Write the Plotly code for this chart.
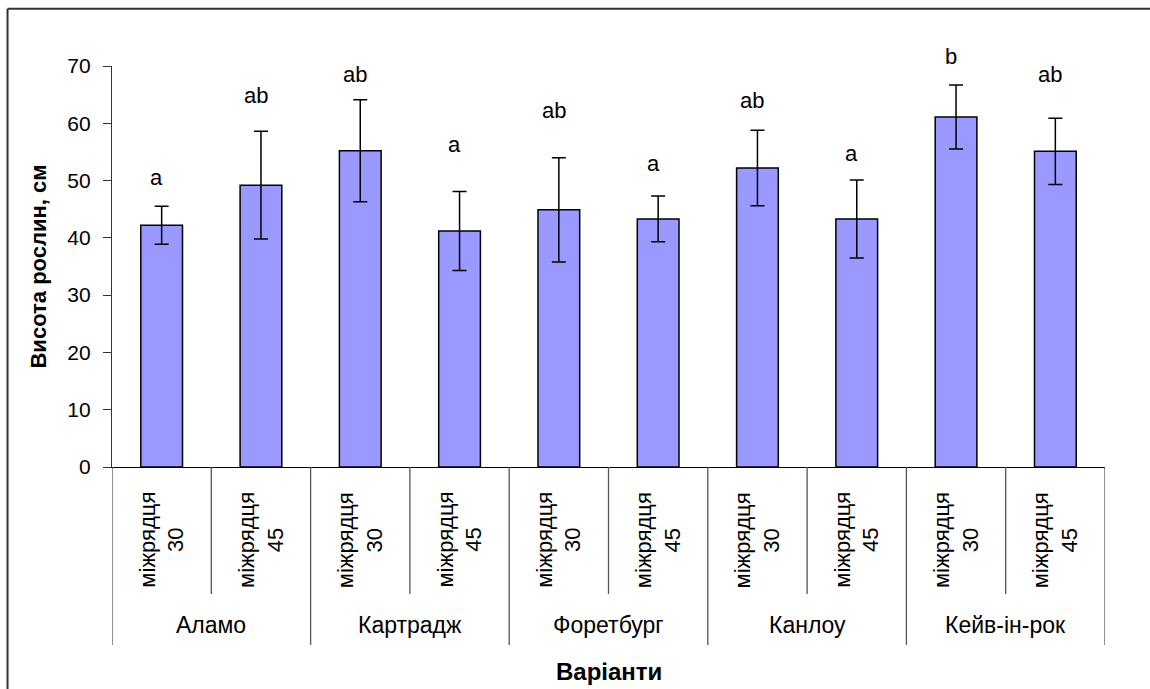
import plotly.graph_objects as go

varieties = ["Аламо", "Картрадж", "Форетбург", "Канлоу", "Кейв-ін-рок"]
spacings = ["міжрядця<br>30", "міжрядця<br>45"]
heights = [42.2, 49.2, 55.2, 41.2, 44.9, 43.3, 52.2, 43.3, 61.1, 55.1]
errors = [3.3, 9.4, 8.9, 6.9, 9.1, 4.0, 6.6, 6.8, 5.6, 5.8]
letters = ["a", "ab", "ab", "a", "ab", "a", "ab", "a", "b", "ab"]
letter_y = [50.5, 64.9, 68.6, 56.3, 62.3, 53.0, 64.0, 54.8, 71.6, 68.5]
y_ticks = [0, 10, 20, 30, 40, 50, 60, 70]
Y_MAX = 70

FONT = "Liberation Sans, Arial, sans-serif"
n = len(heights)
xs = list(range(n))

fig = go.Figure()
fig.add_trace(go.Bar(
    x=xs, y=heights, width=0.42,
    marker=dict(color="#9999FF", line=dict(color="black", width=1.5)),
    error_y=dict(type="data", array=errors, visible=True, color="black",
                 thickness=1.5, width=7),
    showlegend=False,
    hoverinfo="skip",
))

annotations = []
# significance letters (y converted to plot fraction so labels above the range still show)
for i in range(n):
    annotations.append(dict(x=xs[i], y=letter_y[i] / Y_MAX, xref="x", yref="paper",
                            text=letters[i], showarrow=False, xshift=-5,
                            font=dict(family=FONT, size=22, color="black"),
                            xanchor="center", yanchor="middle"))

# inner category labels
inner_labels = [spacings[i % 2] for i in range(n)]
for i in range(n):
    annotations.append(dict(x=xs[i], y=-0.182, xref="x", yref="paper", text=inner_labels[i],
                            showarrow=False, textangle=-90,
                            font=dict(family=FONT, size=22, color="black"),
                            xanchor="center", yanchor="middle"))
# group labels
for g, name in enumerate(varieties):
    annotations.append(dict(x=2 * g + 0.5, y=-0.394, xref="x", yref="paper", text=name,
                            showarrow=False,
                            font=dict(family=FONT, size=23, color="black"),
                            xanchor="center", yanchor="middle"))
# axis titles
annotations.append(dict(x=0.5, y=-0.511, xref="paper", yref="paper", text="<b>Варіанти</b>",
                        showarrow=False, font=dict(family=FONT, size=24, color="black"),
                        xanchor="center", yanchor="middle"))
annotations.append(dict(x=-0.0745, y=0.5, xref="paper", yref="paper",
                        text="<b>Висота рослин, см</b>", textangle=-90,
                        showarrow=False, font=dict(family=FONT, size=22, color="black"),
                        xanchor="center", yanchor="middle"))

shapes = []
# category dividers
for i in range(n + 1):
    is_group = (i % 2 == 0)
    shapes.append(dict(type="line", xref="x", yref="paper", x0=i - 0.5, x1=i - 0.5,
                       y0=0, y1=-0.4436 if is_group else -0.3165,
                       line=dict(color="#555555", width=1.3)))
# outer frame: left and top edges
frame = dict(color="#333333", width=2)
shapes.append(dict(type="line", xref="paper", yref="paper", x0=-0.1052, x1=-0.1052,
                   y0=1.1425, y1=-0.6, line=frame))
shapes.append(dict(type="line", xref="paper", yref="paper", x0=-0.1052, x1=1.1,
                   y0=1.1425, y1=1.1425, line=frame))

fig.update_layout(
    width=1150, height=689,
    margin=dict(l=112, r=45, t=66, b=222),
    paper_bgcolor="white", plot_bgcolor="white",
    font=dict(family=FONT, size=20, color="black"),
    xaxis=dict(range=[-0.5, n - 0.5], showticklabels=False, ticks="",
               showgrid=False, zeroline=False, showline=True,
               linecolor="black", linewidth=1.2),
    yaxis=dict(range=[0, Y_MAX], tickvals=y_ticks, ticks="outside", ticklen=8,
               tickcolor="#333333", tickwidth=1.2, showgrid=False, zeroline=False,
               showline=True, linecolor="#333333", linewidth=1.2,
               ticklabelstandoff=8,
               tickfont=dict(family=FONT, size=21, color="black")),
    annotations=annotations,
    shapes=shapes,
    bargap=0.58,
)

fig.write_html(
    "out.html",
    config={"displayModeBar": False},
    post_script="document.body.style.margin='0';document.body.style.overflow='hidden';",
)
